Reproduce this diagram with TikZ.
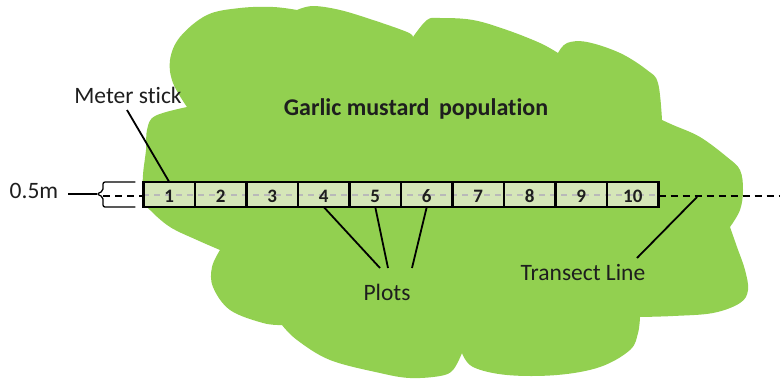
\documentclass[tikz,border=0pt]{standalone}
\usepackage{fontspec}
\setmainfont{Carlito}[Ligatures={NoCommon}]
\usetikzlibrary{calc}
\definecolor{blobgreen}{HTML}{92D050}
\definecolor{cellgreen}{HTML}{D5E6B8}
\definecolor{inkdark}{HTML}{1E1E1E}
\tikzset{
  cellbox/.style={draw=black, line width=2.2pt, fill=cellgreen, minimum width=51.6pt, minimum height=25pt, inner sep=0pt, outer sep=0pt},
  cellnum/.style={font=\fontsize{19}{22}\selectfont\bfseries, text=inkdark, inner sep=0pt},
  lbl/.style={font=\fontsize{23.5}{28}\selectfont, text=inkdark, inner sep=0pt, anchor=base},
  pointer/.style={draw=black, line width=1.8pt},
  blackdash/.style={draw=black, line width=2pt, dash pattern=on 7pt off 5pt},
  greydash/.style={draw=gray!55, line width=2pt, dash pattern=on 6pt off 5pt}
}
\begin{document}
\begin{tikzpicture}[x=1pt,y=-1pt]
\useasboundingbox (0,0) rectangle (780,381);
% population blob
\fill[blobgreen]
  plot[smooth,tension=0.6] coordinates {(187,107) (173,83) (170,60) (180,37) (207,15) (240,8) (273,7) (297,10)}
  -- plot[smooth,tension=0.6] coordinates {(297,10) (313,6) (340,10) (373,20) (407,32) (413,37)}
  -- plot[smooth,tension=0.6] coordinates {(413,37) (427,20) (440,18) (473,20) (507,30) (540,43) (558,53)}
  -- plot[smooth,tension=0.6] coordinates {(558,53) (567,43) (587,42) (620,53) (647,70) (658,83) (662,120)}
  -- plot[smooth,tension=0.6] coordinates {(662,120) (673,125) (700,137) (727,157) (740,170) (743,190) (740,210) (730,227)}
  -- plot[smooth,tension=0.6] coordinates {(730,227) (737,247) (745,270) (748,290) (740,303) (713,313) (673,316) (640,317)}
  -- plot[smooth,tension=0.6] coordinates {(640,317) (638,333) (630,350) (600,367) (557,375) (507,375) (473,367) (462,353)}
  -- plot[smooth,tension=0.6] coordinates {(462,353) (453,370) (440,376) (410,378) (380,373) (330,360) (297,340) (282,325)}
  -- plot[smooth,tension=0.6] coordinates {(282,325) (263,323) (230,310) (213,287) (212,267) (220,250)}
  -- plot[smooth,tension=0.6] coordinates {(220,250) (197,240) (170,227) (150,210) (143,200) (143,175) (146,150) (147,130) (155,116) (187,107)}
  -- cycle;
% meter stick cells
\foreach \i in {1,...,10}{
  \node[cellbox] (c\i) at ({143.5+51.5*(\i-0.5)},194.5) {};
}
% transect line
\coordinate (tl0) at (103,196);
\coordinate (tlend) at (780,196);
\draw[blackdash] (tl0) -- (c1.west |- tl0);
\draw[greydash] (c1.west |- 0,195) -- (c10.east |- 0,195);
\draw[blackdash] (c10.east |- tlend) -- (tlend);
% redraw cell borders on top
\foreach \i in {1,...,10}{
  \draw[black, line width=2.2pt] (c\i.north west) rectangle (c\i.south east);
  \node[cellnum] at ($(c\i.center)+(0,1.5)$) {\i};
}
% labels
\node[lbl] (ms) at (128,103) {Meter stick};
\node[lbl] (half) at (34,198) {0.5m};
\node[lbl, font=\fontsize{24}{28}\selectfont\bfseries] (title) at (416,115) {Garlic mustard\hspace{4pt} population};
\node[lbl] (plots) at (387,300) {Plots};
\node[lbl] (tr) at (583,280) {Transect Line};
% pointers
\coordinate (msA) at (127,110);
\draw[pointer] (msA) -- (c1.north);
\coordinate (p4) at (380,268);
\coordinate (p5) at (388,268);
\coordinate (p6) at (412,268);
\draw[pointer] (c4.south) -- (p4);
\draw[pointer] (c5.south) -- (p5);
\draw[pointer] (c6.south) -- (p6);
\coordinate (trA) at (697,197);
\coordinate (trB) at (637,258);
\draw[pointer] (trA) -- (trB);
% brace for 0.5m
\draw[black, line width=1.3pt, rounded corners=2pt]
  (c1.north west) ++(-8,0) -- (103,182) -- (103,191) -- (97,194) -- (103,197) -- (103,207) -- ($(c1.south west)+(-8,0)$);
\coordinate (brA) at (68,194);
\coordinate (brB) at (97,194);
\draw[pointer] (brA) -- (brB);
\end{tikzpicture}
\end{document}
